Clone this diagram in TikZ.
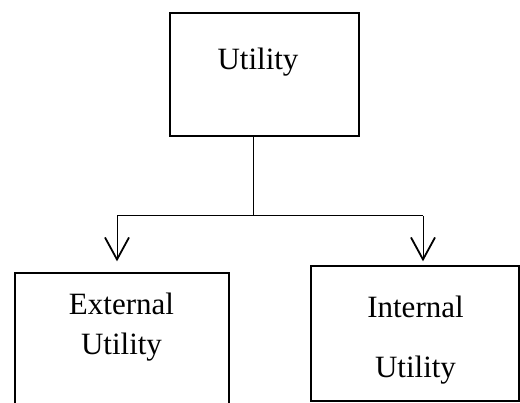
\documentclass[tikz,border=0pt]{standalone}
\usepackage{fontspec}
\setmainfont{Liberation Serif}
\usetikzlibrary{arrows.meta}
\begin{document}
\begin{tikzpicture}[x=1pt,y=-1pt]
            \tikzstyle{boite}=[draw,line width=1.3pt,inner sep=0pt]
            \tikzstyle{mot}=[align=center,inner sep=0pt,font=\fontsize{31}{40}\selectfont]
            \tikzstyle{fleche}=[line width=1pt,-{Straight Barb[length=22pt,width=24pt,line width=1.8pt]}]
            \useasboundingbox (0,0) rectangle (520,403);
            \clip (0,0) rectangle (520,403);
            \node[boite,minimum width=189pt,minimum height=123pt] (util) at (264.5,74.5) {};
            \node[boite,minimum width=214pt,minimum height=170pt] (ext) at (122,358) {};
            \node[boite,minimum width=208pt,minimum height=135pt] (int) at (415,333.5) {};
            \node[mot] (u) at (258,62) {Utility};
            \node[mot] (e) at (121.5,327) {External\\Utility};
            \node[mot,font=\fontsize{31}{60}\selectfont] (i) at (415.5,340) {Internal\\Utility};
            \coordinate (br) at (253,216);
            \coordinate (g) at (117,216);
            \coordinate (d) at (423,216);
            \draw[line width=1pt] (util.south -| br) -- (br);
            \draw[line width=1pt] (g) -- (d);
            \draw[fleche] (g) -- ([yshift=11pt]ext.north -| g);
            \draw[fleche] (d) -- ([yshift=4pt]int.north -| d);
        \end{tikzpicture}
\end{document}
